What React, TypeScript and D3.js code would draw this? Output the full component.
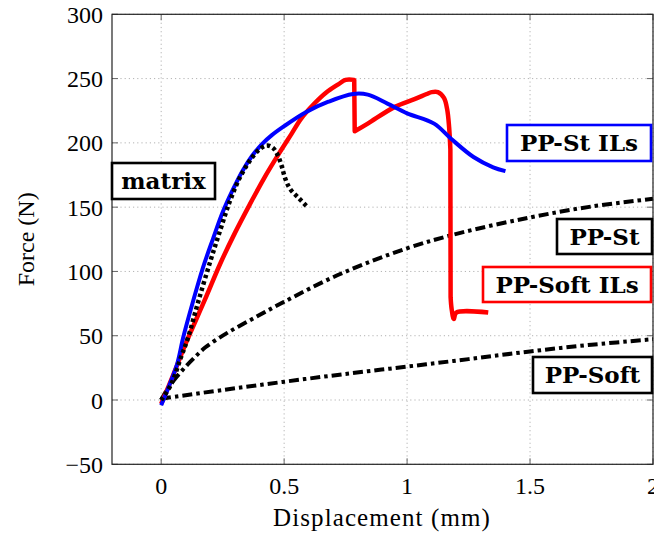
import React from "react";
import * as d3 from "d3";

// Force–displacement curves (x: mm, y: N)
const ppStIlsX = [0, 0.03, 0.065, 0.09, 0.13, 0.17, 0.21, 0.25, 0.29, 0.33, 0.37, 0.41, 0.45, 0.5, 0.59, 0.68, 0.78, 0.84, 0.92, 1.0, 1.11, 1.18, 1.27, 1.35, 1.4];
const ppStIlsY = [-4, 10, 28, 49, 77, 103, 125, 146, 163, 178, 190, 199, 206, 213, 224, 232, 238, 237.5, 230.5, 223, 215, 203, 189, 181, 178];

// PP-Soft ILs in three smooth stretches separated by the two load drops
const ppSoftIlsRiseX = [0, 0.05, 0.1, 0.18, 0.24, 0.3, 0.36, 0.42, 0.48, 0.53, 0.57, 0.62, 0.67, 0.72, 0.75, 0.785];
const ppSoftIlsRiseY = [-3, 20, 44, 79, 106, 130, 152, 173, 192, 207, 219, 230, 239, 245.5, 249, 249];
const ppSoftIlsSecondX = [0.787, 0.84, 0.95, 1.03, 1.08, 1.1, 1.125, 1.15, 1.163, 1.171, 1.176];
const ppSoftIlsSecondY = [209, 215, 228, 234, 238, 239.5, 239.5, 235, 226, 212, 195];
const ppSoftIlsTailX = [1.177, 1.181, 1.19, 1.2, 1.33];
const ppSoftIlsTailY = [80, 71, 63, 68, 68];

const matrixX = [0, 0.04, 0.08, 0.11, 0.15, 0.2, 0.24, 0.28, 0.32, 0.36, 0.4, 0.43, 0.455, 0.475, 0.49, 0.505, 0.525, 0.56, 0.59];
const matrixY = [0, 12, 33, 49, 76, 108, 132, 155, 173, 186, 195, 198, 196, 190, 182, 172, 164, 157, 151];

const ppStX = [0, 0.02, 0.05, 0.09, 0.13, 0.18, 0.267, 0.38, 0.5, 0.728, 1.0, 1.217, 1.5, 1.75, 2.0];
const ppStY = [0, 7, 15, 24, 32, 41, 52, 64, 76.4, 98, 118, 130, 142, 150.5, 156.5];

const ppSoftX = [0, 0.25, 0.5, 0.75, 1.0, 1.25, 1.5, 1.75, 2.0];
const ppSoftY = [1, 7.8, 14.2, 20.3, 26, 31.8, 37.8, 43, 47.3];

const xTicks = [0, 0.5, 1, 1.5, 2];
const yTicks = [-50, 0, 50, 100, 150, 200, 250, 300];
const xTickLabels = ["0", "0.5", "1", "1.5", "2"];
const yTickLabels = ["\u221250", "0", "50", "100", "150", "200", "250", "300"];

const W = 654;
const H = 536;
const left = 112;
const right = 653;
const top = 14.3;
const bottom = 464.3;

const x = d3.scaleLinear().domain([-0.2, 2]).range([left, right]);
const y = d3.scaleLinear().domain([-50, 300]).range([bottom, top]);

const zip = (xs: number[], ys: number[]) => xs.map((v, i) => [v, ys[i]] as [number, number]);

const smooth = d3
  .line<[number, number]>()
  .x((d) => x(d[0]))
  .y((d) => y(d[1]))
  .curve(d3.curveCatmullRom.alpha(0.5));

// joins several smooth stretches into one continuous path
const joined = (parts: [number, number][][]) =>
  parts.map((p, i) => (i === 0 ? smooth(p)! : smooth(p)!.replace(/^M/, "L"))).join("");

const FONT = "'Liberation Serif', 'Times New Roman', serif";
const BOLD_FONT = "'DejaVu Serif', serif";

type Tag = { text: string; x0: number; y0: number; x1: number; y1: number; color: string };
const tags: Tag[] = [
  { text: "matrix", x0: 112, y0: 163, x1: 215, y1: 199, color: "#000" },
  { text: "PP-St ILs", x0: 507, y0: 125, x1: 651, y1: 161, color: "#0000ff" },
  { text: "PP-St", x0: 557, y0: 219, x1: 652, y1: 254, color: "#000" },
  { text: "PP-Soft ILs", x0: 483, y0: 267, x1: 651, y1: 302, color: "#ff0000" },
  { text: "PP-Soft", x0: 533, y0: 357, x1: 652, y1: 393, color: "#000" },
];

export default function App() {
  const gridColor = "#b3b3b3";
  const dashDot = "10 4 3.5 4";
  return (
    <svg
      width={W}
      height={H}
      viewBox={`0 0 ${W} ${H}`}
      style={{ position: "absolute", left: 0, top: 0, background: "#fff" }}
    >
      <rect x={0} y={0} width={W} height={H} fill="#fff" />
      {/* grid */}
      <g stroke={gridColor} strokeWidth={1} strokeDasharray="1.2 3">
        {xTicks.map((t) => (
          <line key={"gx" + t} x1={x(t)} x2={x(t)} y1={top} y2={bottom} />
        ))}
        {yTicks.map((t) => (
          <line key={"gy" + t} x1={left} x2={right} y1={y(t)} y2={y(t)} />
        ))}
      </g>
      {/* tick marks */}
      <g stroke="#666" strokeWidth={1}>
        {xTicks.map((t) => (
          <g key={"tx" + t}>
            <line x1={x(t)} x2={x(t)} y1={bottom} y2={bottom - 6} />
            <line x1={x(t)} x2={x(t)} y1={top} y2={top + 6} />
          </g>
        ))}
        {yTicks.map((t) => (
          <g key={"ty" + t}>
            <line x1={left} x2={left + 6} y1={y(t)} y2={y(t)} />
            <line x1={right} x2={right - 6} y1={y(t)} y2={y(t)} />
          </g>
        ))}
      </g>

      {/* curves */}
      <path d={smooth(zip(ppSoftX, ppSoftY))!} fill="none" stroke="#000" strokeWidth={4} strokeDasharray={dashDot} />
      <path d={smooth(zip(ppStX, ppStY))!} fill="none" stroke="#000" strokeWidth={4} strokeDasharray={dashDot} />
      <path
        d={joined([
          zip(ppSoftIlsRiseX, ppSoftIlsRiseY),
          zip(ppSoftIlsSecondX, ppSoftIlsSecondY),
          zip(ppSoftIlsTailX, ppSoftIlsTailY),
        ])}
        fill="none"
        stroke="#ff0000"
        strokeWidth={4.5}
        strokeLinejoin="round"
      />
      <path d={smooth(zip(ppStIlsX, ppStIlsY))!} fill="none" stroke="#0000ff" strokeWidth={4} strokeLinejoin="round" />
      <path d={smooth(zip(matrixX, matrixY))!} fill="none" stroke="#000" strokeWidth={4.5} strokeDasharray="3.5 3" />

      {/* frame */}
      <rect x={left} y={top} width={right - left} height={bottom - top} fill="none" stroke="#222" strokeWidth={1.2} />

      {/* tick labels */}
      <g fontFamily={FONT} fontSize={24} fill="#000">
        {xTicks.map((t, i) => (
          <text key={"lx" + t} x={x(t)} y={bottom + 30} textAnchor="middle">
            {xTickLabels[i]}
          </text>
        ))}
        {yTicks.map((t, i) => (
          <text key={"ly" + t} x={left - 9} y={y(t) + 8.5} textAnchor="end">
            {yTickLabels[i]}
          </text>
        ))}
      </g>

      {/* axis titles */}
      <text x={382} y={526} textAnchor="middle" fontFamily={FONT} fontSize={25} letterSpacing={1.1}>
        Displacement (mm)
      </text>
      <text
        transform={`translate(34, ${(top + bottom) / 2}) rotate(-90)`}
        textAnchor="middle"
        fontFamily={FONT}
        fontSize={24}
      >
        Force (N)
      </text>

      {/* curve labels */}
      {tags.map((t) => (
        <g key={t.text}>
          <rect x={t.x0} y={t.y0} width={t.x1 - t.x0} height={t.y1 - t.y0} fill="#fff" stroke={t.color} strokeWidth={2.6} />
          <text
            x={(t.x0 + t.x1) / 2}
            y={(t.y0 + t.y1) / 2 + 8}
            textAnchor="middle"
            fontFamily={BOLD_FONT}
            fontWeight="bold"
            fontSize={23}
            fill="#000"
          >
            {t.text}
          </text>
        </g>
      ))}
    </svg>
  );
}
